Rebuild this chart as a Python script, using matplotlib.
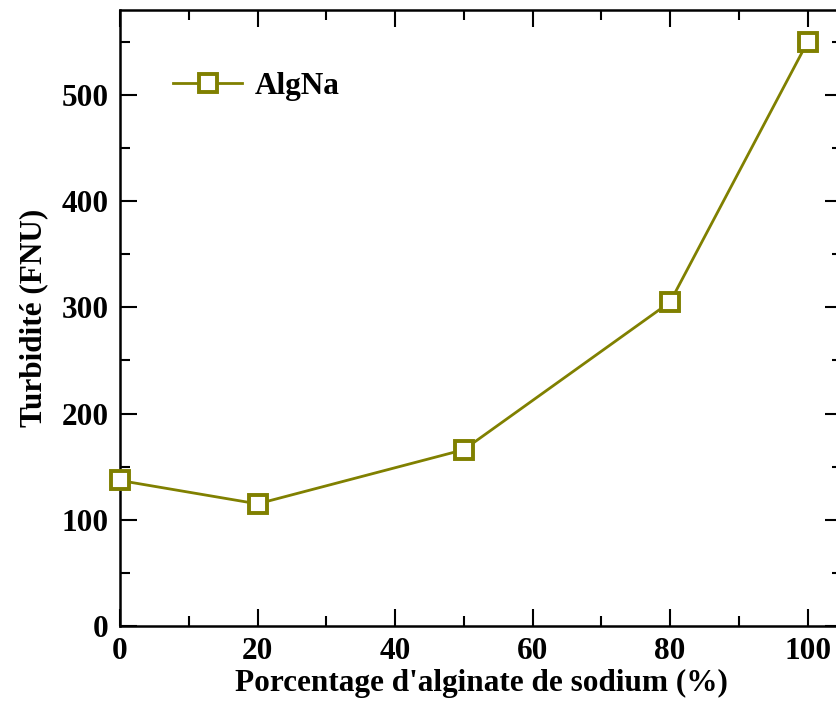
import matplotlib.pyplot as plt

# Data
pct_alginate = [0, 20, 50, 80, 100]
turbidity = [137, 115, 166, 305, 550]

plt.rcParams['font.family'] = ['Liberation Serif', 'DejaVu Serif']
plt.rcParams['font.weight'] = 'bold'

fig = plt.figure(figsize=(8.36, 7.08), dpi=100)
# axes run past the right edge, as in the cropped original
ax = fig.add_axes([120 / 836, 82 / 708, 722 / 836, 616 / 708])

olive = '#808000'
ax.plot(pct_alginate, turbidity, color=olive, lw=2, marker='s', ms=13,
        mfc='white', mec=olive, mew=2.8, label='AlgNa', clip_on=False, zorder=3)

ax.set_xlim(0, 105)
ax.set_ylim(0, 580)
ax.set_xticks([0, 20, 40, 60, 80, 100])
ax.set_xticks(range(10, 105, 20), minor=True)
ax.set_yticks([0, 100, 200, 300, 400, 500])
ax.set_yticks(range(50, 580, 100), minor=True)
ax.tick_params(which='both', direction='in', top=True, right=True, width=1.5,
               labelsize=22.5, pad=8)
ax.tick_params(which='major', length=12)
ax.tick_params(which='minor', length=7)
for s in ax.spines.values():
    s.set_linewidth(1.8)

ax.set_xlabel("Porcentage d'alginate de sodium (%)", fontsize=22.5, fontweight='bold', labelpad=2)
ax.set_ylabel("Turbidité (FNU)", fontsize=22.5, fontweight='bold', labelpad=10)

ax.legend(loc='upper left', bbox_to_anchor=(0.035, 0.945), frameon=False, fontsize=22.5,
          handlelength=2.2, handletextpad=0.4)

fig.savefig('out.png', dpi=100)
